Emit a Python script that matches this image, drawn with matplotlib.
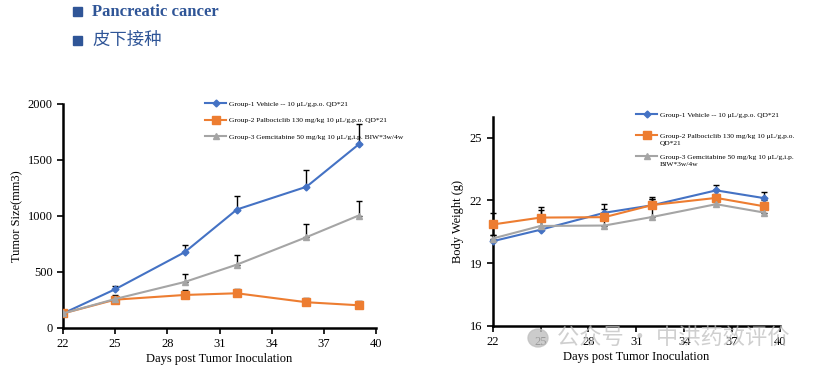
import matplotlib.pyplot as plt
from matplotlib.patches import Ellipse

#---------------------------------------------------------------------- data -----------------------------------------------------------------------#
days = [22, 25, 29, 32, 36, 39]
labels_left = ["Group-1 Vehicle -- 10 μL/g,p.o. QD*21",
               "Group-2 Palbociclib 130 mg/kg 10 μL/g,p.o. QD*21",
               "Group-3 Gemcitabine 50 mg/kg 10 μL/g,i.p. BIW*3w/4w"]
# legende de droite coupee sur deux lignes
labels_right = ["Group-1 Vehicle -- 10 μL/g,p.o. QD*21",
                "Group-2 Palbociclib 130 mg/kg 10 μL/g,p.o.",
                "Group-3 Gemcitabine 50 mg/kg 10 μL/g,i.p."]
labels_right_2 = ["QD*21", "BIW*3w/4w"]

tumor_g1 = [130, 346, 677, 1058, 1261, 1639]
tumor_g2 = [130, 253, 295, 310, 230, 203]
tumor_g3 = [130, 259, 411, 566, 811, 1004]
tumor_e1 = [0, 26, 68, 119, 149, 179]
tumor_e2 = [0, 20, 48, 42, 41, 41]
tumor_e3 = [0, 33, 69, 84, 122, 126]

bw_g1 = [20.05, 20.6, 21.41, 21.77, 22.48, 22.11]
bw_g2 = [20.85, 21.18, 21.2, 21.78, 22.12, 21.72]
bw_g3 = [20.18, 20.78, 20.8, 21.21, 21.82, 21.42]
bw_e1 = [0.3, 0.96, 0.44, 0.41, 0.24, 0.27]
bw_e2 = [0.57, 0.5, 0.38, 0.3, 0.2, 0.3]
bw_e3 = [0.19, 0.4, 0.3, 0.86, 0.3, 0.3]

colors = ["#4472C4", "#ED7D31", "#A5A5A5"]
markers = ["D", "s", "^"]
msizes = [3.5, 5.5, 5]

plt.rcParams['font.family'] = ['Liberation Serif', 'DejaVu Serif']

fig = plt.figure(figsize=(8.14, 3.70), dpi=100)

#---------------------------------------------------------------------- titres -----------------------------------------------------------------------#
title_col = "#2F5597"
fig.patches.append(plt.Rectangle((73/814, 1-16/370), 9/814, 9/370, transform=fig.transFigure,
                                 color=title_col))
fig.patches.append(plt.Rectangle((73/814, 1-45/370), 9/814, 9/370, transform=fig.transFigure,
                                 color=title_col))
fig.text(92/814, 1-12/370, "Pancreatic cancer", fontsize=12, fontweight='bold',
         color=title_col, va='center', ha='left')
fig.text(92/814, 1-40/370, "皮下接种", fontsize=12.5, color=title_col, va='center', ha='left',
         family=['Noto Sans CJK SC', 'DejaVu Sans'])


def style_axes(ax):
    for s in ['top', 'right']:
        ax.spines[s].set_visible(False)
    for s in ['left', 'bottom']:
        ax.spines[s].set_linewidth(1.8)
    ax.tick_params(direction='out', width=1.2, length=4, labelsize=9)
    ax.set_xlim(22, 40)
    ax.set_xticks([22, 25, 28, 31, 34, 37, 40])
    ax.set_xlabel("Days post Tumor Inoculation", fontsize=9, labelpad=2)


#---------------------------------------------------------------------- gauche -----------------------------------------------------------------------#
ax1 = fig.add_axes([63/814, 1-328/370, 313/814, 224/370])
series = [(tumor_g1, tumor_e1), (tumor_g2, tumor_e2), (tumor_g3, tumor_e3)]
for i in [2, 1, 0]:
    vals, errs = series[i]
    ax1.errorbar(days, vals, yerr=[[0]*len(errs), errs], fmt='none', ecolor='black',
                 elinewidth=1, capsize=2.5, capthick=1, zorder=2)
for i in range(3):
    vals, errs = series[i]
    ax1.plot(days, vals, color=colors[i], marker=markers[i], markersize=msizes[i],
             linewidth=1.5, label=labels_left[i], zorder=3)
style_axes(ax1)
ax1.set_ylim(0, 2000)
ax1.set_yticks([0, 500, 1000, 1500, 2000])
ax1.set_ylabel("Tumor Size(mm3)", fontsize=9, labelpad=3)
ax1.legend(loc='upper left', bbox_to_anchor=(0.445, 1.03), frameon=False, fontsize=5.4,
           handlelength=2.8, labelspacing=1.4, handletextpad=0.35, borderaxespad=0)

#---------------------------------------------------------------------- droite -----------------------------------------------------------------------#
ax2 = fig.add_axes([492.7/814, 1-326/370, 287.3/814, 209.3/370])
series = [(bw_g1, bw_e1), (bw_g2, bw_e2), (bw_g3, bw_e3)]
for i in [2, 1, 0]:
    vals, errs = series[i]
    ax2.errorbar(days, vals, yerr=[[0]*len(errs), errs], fmt='none', ecolor='black',
                 elinewidth=1, capsize=2.5, capthick=1, zorder=2, clip_on=False)
for i in range(3):
    vals, errs = series[i]
    ax2.plot(days, vals, color=colors[i], marker=markers[i], markersize=msizes[i],
             linewidth=1.5, label=labels_right[i], zorder=3, clip_on=False)
style_axes(ax2)
ax2.set_ylim(16, 26)
ax2.set_yticks([16, 19, 22, 25])
ax2.set_ylabel("Body Weight (g)", fontsize=9, labelpad=4)
leg2 = ax2.legend(loc='upper left', bbox_to_anchor=(0.49, 1.04), frameon=False, fontsize=5.4,
                  handlelength=2.8, labelspacing=2.0, handletextpad=0.35, borderaxespad=0)

# deuxieme ligne des libelles, sous le texte de la legende
fig.canvas.draw()
inv = fig.transFigure.inverted()
txts = leg2.get_texts()
for k, t in enumerate(txts[1:]):
    bb = t.get_window_extent()
    x0, y0 = inv.transform((bb.x0, bb.y0))
    fig.text(x0, y0 - 2/370, labels_right_2[k], fontsize=5.4, va='top', ha='left')

#---------------------------------------------------------------------- filigrane -----------------------------------------------------------------------#
fig.patches.append(Ellipse((538/814, 1-338/370), 20/814, 18/370, transform=fig.transFigure,
                           color='#c0c0c0', alpha=0.8, zorder=10))
fig.text(557/814, 1-338/370, "公众号 · 中洪药效评价", fontsize=16, color='#c0c0c0', alpha=0.75,
         va='center', ha='left', family=['Noto Sans CJK SC', 'DejaVu Sans'], zorder=10)

fig.savefig("out.png", dpi=100)
